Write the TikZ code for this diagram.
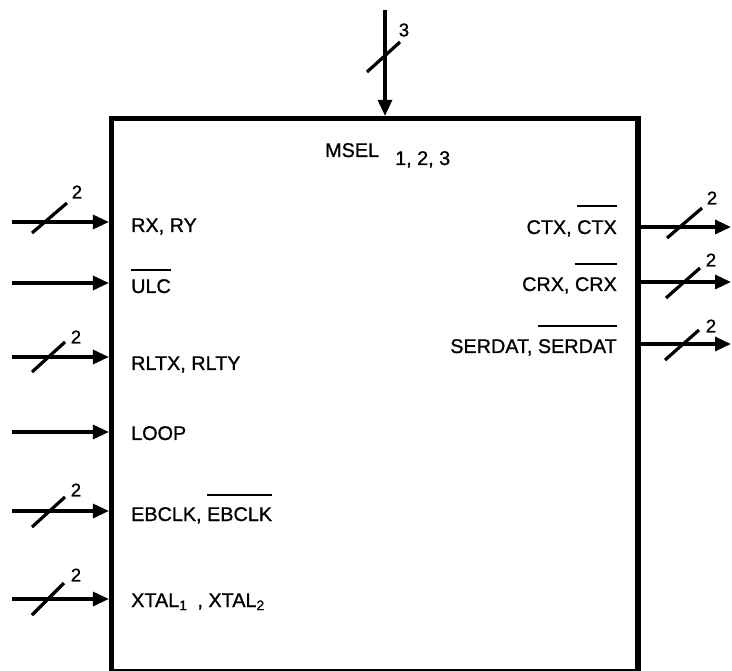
\documentclass[tikz,border=0pt]{standalone}
\usepackage{fontspec}
\setmainfont{Liberation Sans}
\newfontfamily\lblfont{Liberation Sans}[FakeBold=1]
\usetikzlibrary{arrows.meta,calc}
\newcommand\ovl[2][25pt]{\setbox0\hbox{#2}\rlap{\rule[#1]{\wd0}{2pt}}\box0}
\begin{document}
\begin{tikzpicture}[x=1pt,y=-1pt,
  sig/.style={line width=3.2pt,-{Triangle[length=16pt,width=14pt]}},
  slash/.style={line width=3.2pt},
  lbl/.style={font=\lblfont\fontsize{19.8}{22}\selectfont,inner sep=0pt},
  num/.style={font=\lblfont\fontsize{18.5}{20}\selectfont,inner sep=0pt},
  blk/.style={draw,line width=5.2pt,inner sep=0pt,minimum width=526.5pt,minimum height=553pt}]
\useasboundingbox (0,0) rectangle (732,671);
\node[blk] (box) at (374.75,395) {};

% top input
\coordinate (tin) at (385,10);
\draw[sig] (tin) -- (tin |- box.north);
\draw[slash] (367,72) -- (400,42);
\node[num] (n3) at (404,30) {3};

% left inputs
\coordinate (ia) at (12,222);
\coordinate (ib) at (12,283);
\coordinate (ic) at (12,357);
\coordinate (id) at (12,432);
\coordinate (ie) at (12,511);
\coordinate (if) at (12,599);
\foreach \c in {ia,ib,ic,id,ie,if} \draw[sig] (\c) -- (\c -| box.west);
\draw[slash] (32,233) -- (67,203);
\node[num] (na) at (77,192) {2};
\draw[slash] (32,372) -- (65,342);
\node[num] (nc) at (76,337) {2};
\draw[slash] (32,527) -- (65,497);
\node[num] (ne) at (76,490) {2};
\draw[slash] (32,615) -- (64,583);
\node[num] (nf) at (76,575) {2};

% right outputs
\coordinate (oa) at (731,227);
\coordinate (ob) at (731,282);
\coordinate (oc) at (731,344);
\foreach \c in {oa,ob,oc} \draw[sig] (\c -| box.east) -- (\c);
\draw[slash] (667,238) -- (702,208);
\node[num] (noa) at (712,198) {2};
\draw[slash] (666,298) -- (700,268);
\node[num] (nob) at (711,260) {2};
\draw[slash] (665,360) -- (699,330);
\node[num] (noc) at (711,326) {2};

% labels
\node[lbl,anchor=base west] (msel) at (325,157) {MSEL};
\node[lbl,anchor=base west] (msn) at (395,165) {1, 2, 3};
\node[lbl,anchor=base west] (la) at (131,232) {RX, RY};
\node[lbl,anchor=base west] (lb) at (131,293) {\ovl[22pt]{ULC}};
\node[lbl,anchor=base west] (lc) at (131,370) {RLTX, RLTY};
\node[lbl,anchor=base west] (ld) at (131,440) {LOOP};
\node[lbl,anchor=base west] (le) at (131,521) {EBCLK, \ovl{EBCLK}};
\node[lbl,anchor=base west] (lf) at (131,607) {XTAL\textsubscript{1}\hspace{10pt}, XTAL\textsubscript{2}};
\node[lbl,anchor=base east] (ra) at (617,234) {CTX, \ovl[27pt]{CTX}};
\node[lbl,anchor=base east] (rb) at (617,291) {CRX, \ovl[26pt]{CRX}};
\node[lbl,anchor=base east] (rc) at (617,353) {SERDAT, \ovl[26pt]{SERDAT}};
\end{tikzpicture}
\end{document}
